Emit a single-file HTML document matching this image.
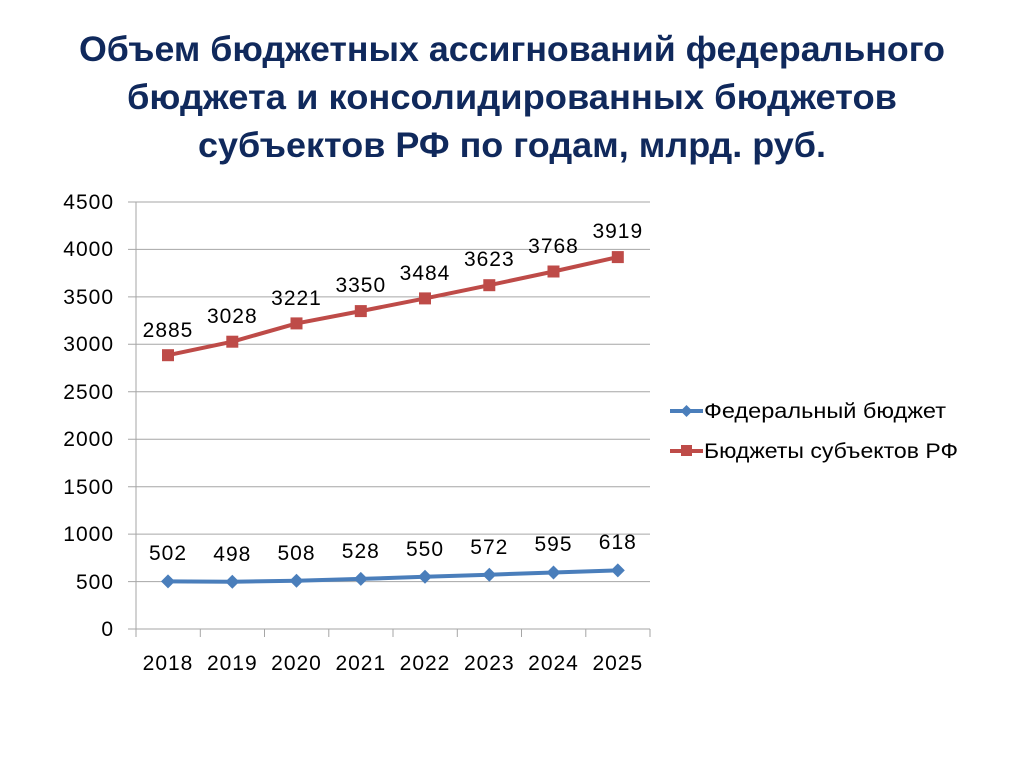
<!DOCTYPE html>
<html><head><meta charset="utf-8"><style>html,body{margin:0;padding:0;background:#fff}svg{display:block}</style></head>
<body>
<svg width="1024" height="768" xmlns="http://www.w3.org/2000/svg" font-family="Liberation Sans, sans-serif">
<g fill="#10295c" font-weight="bold" font-size="35" text-anchor="middle">
<text x="512" y="61" textLength="866" lengthAdjust="spacingAndGlyphs">Объем бюджетных ассигнований федерального</text>
<text x="512" y="109" textLength="770" lengthAdjust="spacingAndGlyphs">бюджета и консолидированных бюджетов</text>
<text x="512" y="157" textLength="628" lengthAdjust="spacingAndGlyphs">субъектов РФ по годам, млрд. руб.</text>
</g>
<g stroke="#a6a6a6" stroke-width="1">
<line x1="128" y1="202" x2="650" y2="202"/><line x1="128" y1="249.4" x2="650" y2="249.4"/>
<line x1="128" y1="296.9" x2="650" y2="296.9"/><line x1="128" y1="344.3" x2="650" y2="344.3"/>
<line x1="128" y1="391.8" x2="650" y2="391.8"/><line x1="128" y1="439.2" x2="650" y2="439.2"/>
<line x1="128" y1="486.7" x2="650" y2="486.7"/><line x1="128" y1="534.1" x2="650" y2="534.1"/>
<line x1="128" y1="581.6" x2="650" y2="581.6"/><line x1="128" y1="629" x2="650" y2="629"/>
<line x1="136" y1="202" x2="136" y2="637"/>
<line x1="200.3" y1="629" x2="200.3" y2="637"/><line x1="264.5" y1="629" x2="264.5" y2="637"/>
<line x1="328.8" y1="629" x2="328.8" y2="637"/><line x1="393" y1="629" x2="393" y2="637"/>
<line x1="457.3" y1="629" x2="457.3" y2="637"/><line x1="521.5" y1="629" x2="521.5" y2="637"/>
<line x1="585.8" y1="629" x2="585.8" y2="637"/><line x1="650" y1="629" x2="650" y2="637"/>
</g>
<g font-size="21" fill="#000" text-anchor="end" letter-spacing="1">
<text x="114" y="209">4500</text><text x="114" y="256">4000</text><text x="114" y="304">3500</text>
<text x="114" y="351">3000</text><text x="114" y="399">2500</text><text x="114" y="446">2000</text>
<text x="114" y="494">1500</text><text x="114" y="541">1000</text><text x="114" y="589">500</text>
<text x="114" y="636">0</text>
</g>
<g font-size="21" fill="#000" text-anchor="middle" letter-spacing="1">
<text x="168" y="670">2018</text><text x="232.3" y="670">2019</text><text x="296.5" y="670">2020</text>
<text x="360.8" y="670">2021</text><text x="425" y="670">2022</text><text x="489.3" y="670">2023</text>
<text x="553.5" y="670">2024</text><text x="617.8" y="670">2025</text>
<text x="168" y="337">2885</text><text x="232.3" y="323">3028</text><text x="296.5" y="305">3221</text>
<text x="360.8" y="292">3350</text><text x="425" y="280">3484</text><text x="489.3" y="266">3623</text>
<text x="553.5" y="253">3768</text><text x="617.8" y="238">3919</text>
<text x="168" y="560">502</text><text x="232.3" y="561">498</text><text x="296.5" y="560">508</text>
<text x="360.8" y="558">528</text><text x="425" y="556">550</text><text x="489.3" y="554">572</text>
<text x="553.5" y="551">595</text><text x="617.8" y="549">618</text>
</g>
<polyline fill="none" stroke="#be4b48" stroke-width="4" points="168,355.2 232.3,341.7 296.5,323.4 360.8,311.1 425,298.4 489.3,285.2 553.5,271.5 617.8,257.1"/>
<g fill="#be4b48">
<rect x="162" y="349.2" width="12" height="12"/><rect x="226.3" y="335.7" width="12" height="12"/>
<rect x="290.5" y="317.4" width="12" height="12"/><rect x="354.8" y="305.1" width="12" height="12"/>
<rect x="419" y="292.4" width="12" height="12"/><rect x="483.3" y="279.2" width="12" height="12"/>
<rect x="547.5" y="265.5" width="12" height="12"/><rect x="611.8" y="251.1" width="12" height="12"/>
</g>
<polyline fill="none" stroke="#4a7ebb" stroke-width="4" points="168,581.4 232.3,581.7 296.5,580.8 360.8,578.9 425,576.8 489.3,574.7 553.5,572.5 617.8,570.4"/>
<g fill="#4a7ebb">
<path d="M168,574.4l7,7l-7,7l-7,-7z"/><path d="M232.3,574.7l7,7l-7,7l-7,-7z"/>
<path d="M296.5,573.8l7,7l-7,7l-7,-7z"/><path d="M360.8,571.9l7,7l-7,7l-7,-7z"/>
<path d="M425,569.8l7,7l-7,7l-7,-7z"/><path d="M489.3,567.7l7,7l-7,7l-7,-7z"/>
<path d="M553.5,565.5l7,7l-7,7l-7,-7z"/><path d="M617.8,563.4l7,7l-7,7l-7,-7z"/>
</g>
<line x1="670" y1="411" x2="703" y2="411" stroke="#4a7ebb" stroke-width="4"/>
<path d="M686.5,405l6,6l-6,6l-6,-6z" fill="#4a7ebb"/>
<line x1="670" y1="451" x2="703" y2="451" stroke="#be4b48" stroke-width="4"/>
<rect x="681" y="445" width="11" height="11" fill="#be4b48"/>
<g font-size="21" fill="#000">
<text x="704" y="418" textLength="242" lengthAdjust="spacingAndGlyphs">Федеральный бюджет</text>
<text x="704" y="458" textLength="254" lengthAdjust="spacingAndGlyphs">Бюджеты субъектов РФ</text>
</g>
</svg>
</body></html>
